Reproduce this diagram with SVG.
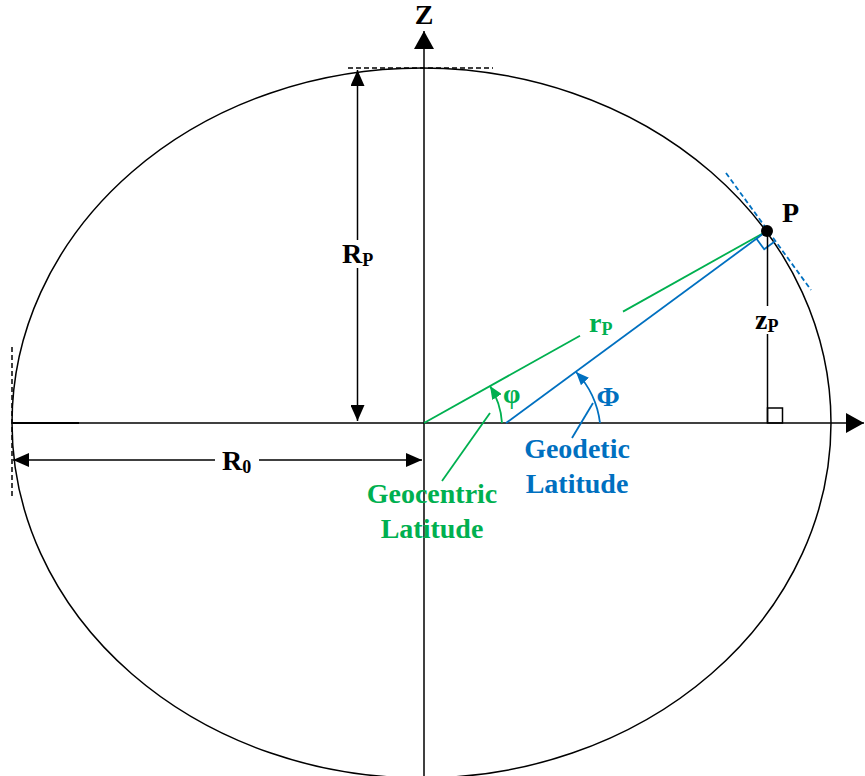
<svg xmlns="http://www.w3.org/2000/svg" width="865" height="776" viewBox="0 0 865 776">
<style>
.blk{stroke:#000;stroke-width:1.5;fill:none}
.grn{stroke:#00B050;stroke-width:1.8;fill:none}
.blu{stroke:#0070C0;stroke-width:1.8;fill:none}
.dash{stroke-dasharray:5,3}
text{font-family:"Liberation Serif","Times New Roman",serif;font-weight:bold}
.t{font-size:28px}
.s{font-size:18px}
.gt{fill:#00B050}
.bt{fill:#0070C0}
</style>
<defs>
<marker id="ax" markerUnits="userSpaceOnUse" markerWidth="18" markerHeight="20" viewBox="0 0 18 20" refX="18" refY="10" orient="auto"><path d="M0,0 L18,10 L0,20 z" fill="#000"/></marker>
<marker id="dim" markerUnits="userSpaceOnUse" markerWidth="16" markerHeight="14" viewBox="0 0 16 14" refX="16" refY="7" orient="auto-start-reverse"><path d="M0,0 L16,7 L0,14 z" fill="#000"/></marker>
<marker id="ga" markerUnits="userSpaceOnUse" markerWidth="13" markerHeight="11" viewBox="0 0 13 11" refX="13" refY="5.5" orient="auto"><path d="M0,0 L13,5.5 L0,11 z" fill="#00B050"/></marker>
<marker id="ba" markerUnits="userSpaceOnUse" markerWidth="13" markerHeight="11" viewBox="0 0 13 11" refX="13" refY="5.5" orient="auto"><path d="M0,0 L13,5.5 L0,11 z" fill="#0070C0"/></marker>
</defs>
<g id="ellipse"><ellipse cx="421.5" cy="423" rx="409.5" ry="355" class="blk"/></g>
<g id="axes">
<line x1="424" y1="776" x2="424" y2="31" class="blk" marker-end="url(#ax)"/>
<line x1="12" y1="423" x2="864" y2="423" class="blk" marker-end="url(#ax)"/>
<line x1="12" y1="423" x2="79" y2="423" stroke="#000" stroke-width="2"/>
<text x="424" y="24" text-anchor="middle" class="t" font-size="26">Z</text>
</g>
<g id="tangents">
<line x1="348" y1="68" x2="493" y2="68" class="blk dash" stroke-width="1.2"/>
<line x1="12" y1="347" x2="12" y2="497" class="blk dash" stroke-width="1.2"/>
<line x1="726" y1="173" x2="811" y2="290" class="blu dash" stroke-width="1.5"/>
</g>
<g id="dimensions">
<line x1="357.5" y1="240" x2="357.5" y2="70" class="blk" marker-end="url(#dim)"/>
<line x1="357.5" y1="268" x2="357.5" y2="421" class="blk" marker-end="url(#dim)"/>
<text x="342" y="263" class="t">R<tspan class="s" dy="3">P</tspan></text>
<line x1="215" y1="460" x2="13" y2="460" class="blk" marker-end="url(#dim)"/>
<line x1="259" y1="460" x2="422" y2="460" class="blk" marker-end="url(#dim)"/>
<text x="222" y="470" class="t">R<tspan class="s" dy="3">0</tspan></text>
</g>
<g id="geocentric">
<line x1="424" y1="423" x2="580" y2="335.7" class="grn"/>
<line x1="623" y1="311.6" x2="767" y2="231" class="grn"/>
<text x="589" y="332" class="t gt">r<tspan class="s" dy="3">P</tspan></text>
<path d="M502,423 A78,78 0 0,0 490,386" class="grn" marker-end="url(#ga)"/>
<text x="503" y="403" class="t gt" font-size="26">φ</text>
<line x1="490" y1="413" x2="442" y2="481" class="grn" stroke-width="1.5"/>
<text x="432" y="503" text-anchor="middle" class="t gt">Geocentric</text>
<text x="432" y="538" text-anchor="middle" class="t gt">Latitude</text>
</g>
<g id="geodetic">
<line x1="506" y1="423" x2="767" y2="231" class="blu"/>
<polyline points="756.5,238.7 764.2,249.2 774.7,241.5" class="blu" stroke-width="1.5"/>
<path d="M600,423 A90,90 0 0,0 576,372" class="blu" marker-end="url(#ba)"/>
<text x="608" y="406" text-anchor="middle" class="t bt">Φ</text>
<line x1="593" y1="403" x2="572" y2="438" class="blu" stroke-width="1.5"/>
<text x="577" y="458" text-anchor="middle" class="t bt">Geodetic</text>
<text x="577" y="493" text-anchor="middle" class="t bt">Latitude</text>
</g>
<g id="point-P">
<line x1="767.5" y1="231" x2="767.5" y2="306" class="blk"/>
<line x1="767.5" y1="334" x2="767.5" y2="423" class="blk"/>
<rect x="767.5" y="408" width="15" height="15" class="blk" stroke-width="1.3"/>
<text x="755" y="329" class="t">z<tspan class="s" dy="3">P</tspan></text>
<circle cx="767" cy="231" r="6" fill="#000"/>
<text x="782" y="222" class="t" font-size="26">P</text>
</g>
</svg>
